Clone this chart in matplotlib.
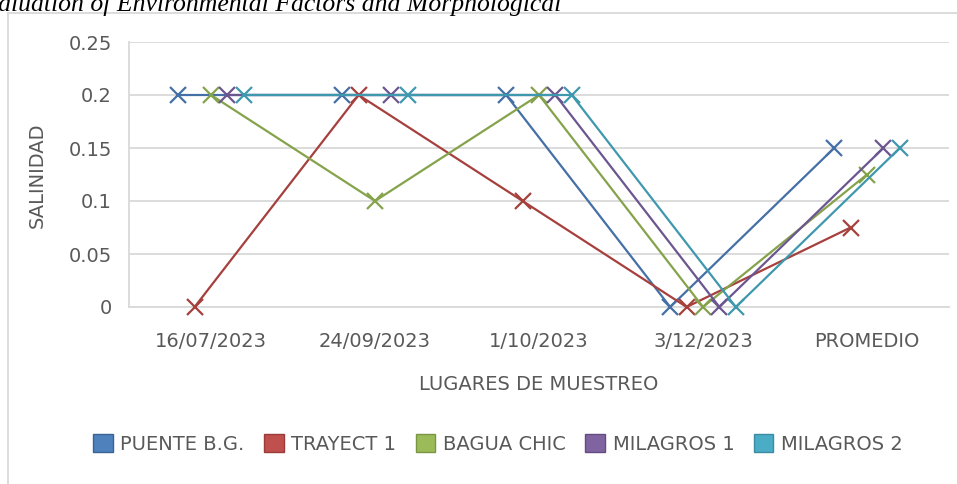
import matplotlib
matplotlib.use("Agg")
import matplotlib.pyplot as plt
from matplotlib.patches import Patch
from matplotlib.lines import Line2D
import numpy as np

W, H = 957, 484

categories = ["16/07/2023", "24/09/2023", "1/10/2023", "3/12/2023", "PROMEDIO"]
series_names = ["PUENTE B.G.", "TRAYECT 1", "BAGUA CHIC", "MILAGROS 1", "MILAGROS 2"]
puente = [0.2, 0.2, 0.2, 0.0, 0.15]
trayect = [0.0, 0.2, 0.1, 0.0, 0.075]
bagua = [0.2, 0.1, 0.2, 0.0, 0.125]
milagros1 = [0.2, 0.2, 0.2, 0.0, 0.15]
milagros2 = [0.2, 0.2, 0.2, 0.0, 0.15]
values = [puente, trayect, bagua, milagros1, milagros2]

line_colors = ["#4470A6", "#A6403D", "#84A34B", "#6C5690", "#3F98AE"]
fill_colors = ["#4F81BD", "#C0504D", "#9BBB59", "#8064A2", "#4BACC6"]
edge_colors = ["#3A6394", "#9B3B38", "#7A9643", "#634C82", "#3A8CA3"]
offsets = [-0.2, -0.1, 0.0, 0.1, 0.2]

text_color = "#595959"
grid_color = "#D9D9D9"

fig = plt.figure(figsize=(W / 100, H / 100), dpi=100)
ax = fig.add_axes([129 / W, 1 - 307 / H, (949 - 129) / W, (307 - 42) / H])

x = np.arange(len(categories))
for vals, off, lc in zip(values, offsets, line_colors):
    ax.plot(x + off, vals, color=lc, lw=1.6, marker="x", markersize=11.5,
            markeredgewidth=1.6, clip_on=False, zorder=3)

ax.set_xlim(-0.5, len(categories) - 0.5)
ax.set_ylim(0, 0.25)
ax.set_yticks([0, 0.05, 0.1, 0.15, 0.2, 0.25])
ax.set_yticklabels(["0", "0.05", "0.1", "0.15", "0.2", "0.25"])
ax.set_xticks(x)
ax.set_xticklabels(categories)
ax.tick_params(length=0, labelsize=14, colors=text_color)
ax.tick_params(axis="y", pad=12.5)
ax.tick_params(axis="x", pad=18)
ax.grid(axis="y", color=grid_color, lw=1.3)
ax.set_axisbelow(True)
for side in ("top", "right"):
    ax.spines[side].set_visible(False)
for side in ("left", "bottom"):
    ax.spines[side].set_color(grid_color)
    ax.spines[side].set_linewidth(1.3)

fig.text(37 / W, 1 - 175 / H, "SALINIDAD", rotation=90, ha="center", va="center",
         fontsize=14, color=text_color)
fig.text(539 / W, 1 - 385 / H, "LUGARES DE MUESTREO", ha="center", va="center",
         fontsize=14, color=text_color)

handles = [Patch(facecolor=fc, edgecolor=ec, lw=1.0) for fc, ec in zip(fill_colors, edge_colors)]
fig.legend(handles, series_names, loc="center", bbox_to_anchor=(498 / W, 1 - 444 / H),
           ncol=5, frameon=False, fontsize=14, handlelength=1.0, handleheight=1.0,
           handletextpad=0.4, columnspacing=1.0, labelcolor=text_color)

# chart frame (partially visible)
fig.add_artist(Line2D([8 / W, 8 / W], [0, 1 - 13 / H], color=grid_color, lw=1.3,
                      transform=fig.transFigure))
fig.add_artist(Line2D([8 / W, 1], [1 - 13 / H, 1 - 13 / H], color=grid_color, lw=1.3,
                      transform=fig.transFigure))

# cut-off document caption above chart
fig.text(-29 / W, 1 - 11 / H, "Evaluation of Environmental Factors and Morphological",
         ha="left", va="baseline", fontsize=18.5, style="italic",
         family="Liberation Serif", color="black")

fig.savefig("out.png", dpi=100, facecolor="white")
